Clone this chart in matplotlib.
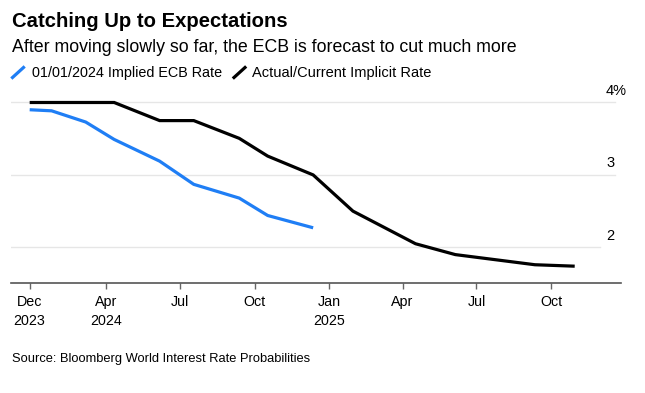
import matplotlib
matplotlib.use('Agg')
import matplotlib.pyplot as plt
from matplotlib.lines import Line2D
import matplotlib.transforms as mtransforms
import pandas as pd

plt.rcParams['font.family'] = ['Liberation Sans', 'DejaVu Sans']

# ---- data ----
blue_dates = ['2023-12-29', '2024-01-25', '2024-03-07', '2024-04-11', '2024-06-06',
              '2024-07-18', '2024-09-12', '2024-10-17', '2024-12-12']
blue_vals = [3.90, 3.885, 3.73, 3.49, 3.19, 2.87, 2.68, 2.44, 2.27]

black_dates = ['2023-12-29', '2024-04-11', '2024-06-06', '2024-07-18', '2024-09-12',
               '2024-10-17', '2024-12-12', '2025-01-30', '2025-04-17', '2025-06-05',
               '2025-09-11', '2025-10-30']
black_vals = [4.0, 4.0, 3.75, 3.75, 3.505, 3.26, 3.0, 2.5, 2.05, 1.90, 1.76, 1.74]

tick_dates = ['2023-12-29', '2024-04-01', '2024-07-01', '2024-10-01',
              '2025-01-01', '2025-04-01', '2025-07-01', '2025-10-01']
tick_labels = ['Dec\n2023', 'Apr\n2024', 'Jul', 'Oct', 'Jan\n2025', 'Apr', 'Jul', 'Oct']

y_ticks = [2, 3, 4]
y_labels = ['2', '3', '4%']

series_names = ['01/01/2024 Implied ECB Rate', 'Actual/Current Implicit Rate']
BLUE = '#1f7ef5'
BLACK = '#000000'

W, H = 645, 393
fig = plt.figure(figsize=(W / 100, H / 100), dpi=100)

def fx(px):
    return px / W

def fy(py):
    return 1 - py / H

ax = fig.add_axes([fx(11), fy(282.7), fx(621) - fx(11), fy(98) - fy(282.7)])

bd = pd.to_datetime(blue_dates)
kd = pd.to_datetime(black_dates)

grid_ends = {2: 0.966, 3: 0.99, 4: 0.99}
for v in y_ticks:
    ax.axhline(v, xmin=0, xmax=grid_ends[v], color='#e6e6e6', lw=1, zorder=0)

ax.plot(bd, blue_vals, color=BLUE, lw=2.3, solid_capstyle='butt', solid_joinstyle='miter', zorder=3)
ax.plot(kd, black_vals, color=BLACK, lw=2.3, solid_capstyle='butt', solid_joinstyle='miter', zorder=3)

ax.set_xlim(pd.Timestamp('2023-12-06'), pd.Timestamp('2025-12-26'))
ax.set_ylim(1.512, 4.062)

ax.set_xticks(pd.to_datetime(tick_dates))
ax.set_xticklabels(tick_labels, fontsize=10.3, color='#000000', linespacing=1.4)
ax.tick_params(axis='x', length=4, width=1, color='#666666', pad=5)
ax.set_yticks([])

for s in ['top', 'right', 'left']:
    ax.spines[s].set_visible(False)
ax.spines['bottom'].set_color('#555555')
ax.spines['bottom'].set_linewidth(1.2)

trans = mtransforms.blended_transform_factory(ax.transAxes, ax.transData)
for v, lab in zip(y_ticks, y_labels):
    ax.annotate(lab, xy=(0.9754, v), xycoords=trans, xytext=(0, 5.5),
                textcoords='offset points', ha='left', va='baseline',
                fontsize=10.5, color='#000000', annotation_clip=False)

# title / subtitle
fig.text(fx(12), fy(27.3), 'Catching Up to Expectations', fontsize=14.6, fontweight='bold',
         ha='left', va='baseline', color='#000000')
fig.text(fx(12), fy(52.3), 'After moving slowly so far, the ECB is forecast to cut much more',
         fontsize=12.8, ha='left', va='baseline', color='#000000')

# legend
fig.add_artist(Line2D([fx(12.5), fx(23.5)], [fy(77.5), fy(67.5)], color=BLUE, lw=2.3,
                      transform=fig.transFigure))
fig.text(fx(31.7), fy(76.5), series_names[0], fontsize=10.4, ha='left', va='baseline')
fig.add_artist(Line2D([fx(234), fx(245)], [fy(77.5), fy(67.5)], color=BLACK, lw=2.3,
                      transform=fig.transFigure))
fig.text(fx(252), fy(76.5), series_names[1], fontsize=10.5, ha='left', va='baseline')

fig.text(fx(12), fy(362), 'Source: Bloomberg World Interest Rate Probabilities', fontsize=9.3,
         ha='left', va='baseline', color='#000000')

fig.savefig('out.png', dpi=100)
